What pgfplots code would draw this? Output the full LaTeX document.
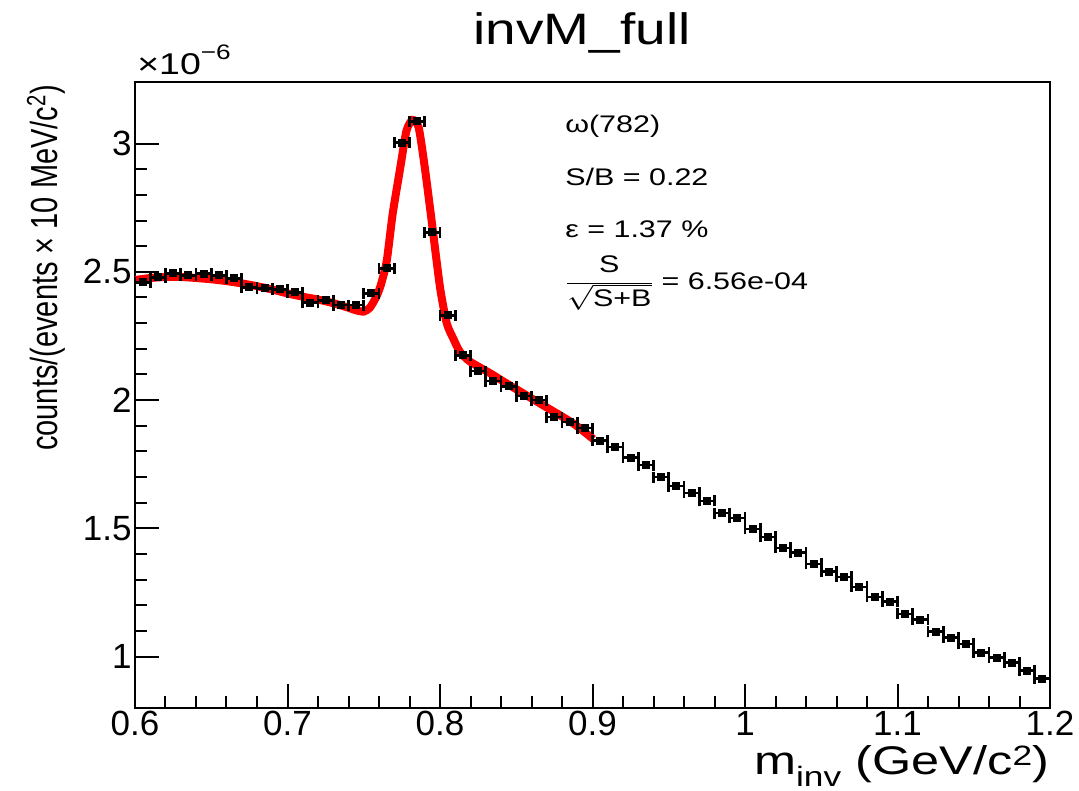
\documentclass[border=0pt]{standalone}
\usepackage{fontspec}
\setmainfont{Liberation Sans}
\usepackage{pgfplots}
\pgfplotsset{compat=1.18}

\pgfdeclareplotmark{rootbin}{%
  \pgfsetlinewidth{2.6pt}%
  \pgfpathmoveto{\pgfqpoint{-7.6pt}{0pt}}\pgfpathlineto{\pgfqpoint{7.6pt}{0pt}}%
  \pgfpathmoveto{\pgfqpoint{-7.6pt}{-5.5pt}}\pgfpathlineto{\pgfqpoint{-7.6pt}{5.5pt}}%
  \pgfpathmoveto{\pgfqpoint{7.6pt}{-5.5pt}}\pgfpathlineto{\pgfqpoint{7.6pt}{5.5pt}}%
  \pgfusepathqstroke
  \pgfpathrectangle{\pgfqpoint{-4pt}{-4pt}}{\pgfqpoint{8pt}{8pt}}\pgfusepathqfill
}

\pgfplotstableread{
x y
0.605 2.459
0.615 2.479
0.625 2.494
0.635 2.486
0.645 2.493
0.655 2.486
0.665 2.475
0.675 2.440
0.685 2.436
0.695 2.432
0.705 2.420
0.715 2.380
0.725 2.389
0.735 2.370
0.745 2.370
0.755 2.416
0.765 2.514
0.775 3.004
0.785 3.086
0.795 2.654
0.805 2.330
0.815 2.175
0.825 2.113
0.835 2.074
0.845 2.054
0.855 2.016
0.865 2.000
0.875 1.934
0.885 1.914
0.895 1.891
0.905 1.842
0.915 1.817
0.925 1.776
0.935 1.747
0.945 1.700
0.955 1.665
0.965 1.638
0.975 1.607
0.985 1.560
0.995 1.541
1.005 1.498
1.015 1.467
1.025 1.424
1.035 1.405
1.045 1.362
1.055 1.331
1.065 1.311
1.075 1.272
1.085 1.233
1.095 1.214
1.105 1.167
1.115 1.144
1.125 1.097
1.135 1.074
1.145 1.050
1.155 1.016
1.165 0.996
1.175 0.977
1.185 0.946
1.195 0.914
}\histdata

\pgfplotstableread{
x y
0.600 2.468
0.610 2.476
0.620 2.480
0.630 2.480
0.640 2.476
0.650 2.471
0.660 2.464
0.670 2.455
0.680 2.444
0.690 2.431
0.700 2.416
0.710 2.403
0.720 2.392
0.730 2.378
0.740 2.360
0.745 2.350
0.750 2.345
0.754 2.360
0.758 2.400
0.761 2.445
0.765 2.540
0.769 2.727
0.774 2.908
0.778 3.050
0.782 3.092
0.786 3.063
0.790 2.908
0.7945 2.700
0.800 2.440
0.8044 2.300
0.8087 2.240
0.8131 2.188
0.8197 2.150
0.8328 2.105
0.8437 2.065
0.8656 1.987
0.8874 1.909
0.9005 1.848
}\fitdata

\begin{document}
\begin{tikzpicture}
\begin{axis}[
  at={(0pt,0pt)}, anchor=south west,
  scale only axis, width=915pt, height=626pt,
  xmin=0.6, xmax=1.2, ymin=0.8, ymax=3.24,
  xtick={0.6,0.7,0.8,0.9,1,1.1,1.2}, minor x tick num=4,
  ytick={1,1.5,2,2.5,3}, minor y tick num=4,
  xtick pos=left, ytick pos=left,
  tick align=inside,
  major tick length=24pt, minor tick length=12pt,
  axis line style={line width=2.8pt},
  tick style={line width=2pt, black},
  ticklabel style={font=\fontsize{35}{40}\selectfont},
  /pgf/number format/assume math mode=true,
  scaled y ticks=false, scaled x ticks=false,
  clip=true,
]
\addplot[only marks, mark=rootbin, black] table[x=x,y=y] {\histdata};
\addplot[red, line width=8pt, smooth, tension=0.4] table[x=x,y=y] {\fitdata};
\end{axis}
\node[anchor=base, xscale=1.25, font=\fontsize{44}{50}\selectfont] at (447pt,663pt) {invM\_full};
\node[anchor=base west, xscale=1.25, inner sep=0pt, font=\fontsize{30}{34}\selectfont] at (2pt,633pt) {×10\raisebox{0.5em}{\fontsize{21}{24}\selectfont −6}};
\begin{scope}[every node/.style={anchor=base west, xscale=1.27, inner sep=0pt, font=\fontsize{24}{28}\selectfont}]
\node at (430pt,575pt) {ω(782)};
\node at (430pt,522pt) {S/B = 0.22};
\node at (430pt,470pt) {ε = 1.37 \%};
\node[anchor=west] at (430pt,425pt) {$\displaystyle\frac{\mbox{S}}{\sqrt{\mbox{S+B}}}$ = 6.56e-04};
\end{scope}
\node[anchor=base east, xscale=1.26, inner sep=0pt, font=\fontsize{40}{46}\selectfont] at (915pt,-67pt) {m\textsubscript{inv} (GeV/c\textsuperscript{2})};
\node[rotate=90, yscale=1.3, anchor=east, inner sep=0pt, font=\fontsize{29}{34}\selectfont] at (-89pt,623pt) {counts/(events × 10 MeV/c\textsuperscript{2})};
\pgfresetboundingbox
\path[use as bounding box] (-135pt,-83pt) rectangle (944pt,708pt);
\end{tikzpicture}
\end{document}
